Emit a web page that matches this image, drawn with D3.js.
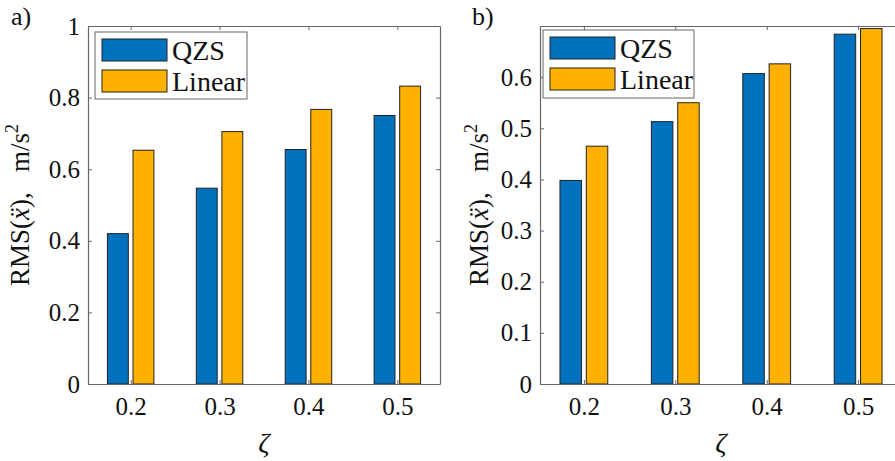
<!DOCTYPE html>
<meta charset="utf-8">
<script src="https://d3js.org/d3.v7.min.js"></script>
<style>
    body { margin: 0; background: #fff; }
    svg text { font-family: "Liberation Serif", "Times New Roman", serif; fill: #111; }
</style>
<div id="chart"></div>
<script>
    var width = 895
    var height = 461
    var serif = '"Liberation Serif", "Times New Roman", serif'

    // data
    var zetas = [0.2, 0.3, 0.4, 0.5]
    var seriesNames = ["QZS", "Linear"]
    var qzsA = [0.420, 0.547, 0.655, 0.750]
    var linearA = [0.653, 0.705, 0.767, 0.832]
    var qzsB = [0.398, 0.513, 0.607, 0.684]
    var linearB = [0.465, 0.550, 0.626, 0.695]
    var ticksA = [0, 0.2, 0.4, 0.6, 0.8, 1]
    var ticksB = [0, 0.1, 0.2, 0.3, 0.4, 0.5, 0.6]

    var colors = ["#0072BD", "#FFB100"]
    var axisColor = "#666"

    var svg = d3.select("#chart")
        .append("svg")
        .attr("width", width)
        .attr("height", height)

    var panels = [
        { tag: "a)", tagX: 11, left: 88, right: 440, ymax: 1, ticks: ticksA, labelX: 29,
          series: [qzsA, linearA], legend: { x: 95, y: 32, w: 152, h: 67 } },
        { tag: "b)", tagX: 472, left: 540, right: 902, ymax: 0.7, ticks: ticksB, labelX: 488,
          series: [qzsB, linearB], legend: { x: 543, y: 30, w: 151, h: 68 } }
    ]

    var plotTop = 26, plotBottom = 384
    var barW = 0.0235, barOff = 0.0144

    panels.forEach(function (p) {
        var x = d3.scaleLinear().domain([0.152, 0.548]).range([p.left, p.right])
        var y = d3.scaleLinear().domain([0, p.ymax]).range([plotBottom, plotTop])
        var g = svg.append("g")

        // bars
        p.series.forEach(function (vals, si) {
            var off = si === 0 ? -barOff : barOff
            g.selectAll(null)
                .data(vals)
                .enter()
                .append("rect")
                .attr("x", function (d, i) { return x(zetas[i] + off - barW / 2) })
                .attr("width", function (d, i) { return x(zetas[i] + off + barW / 2) - x(zetas[i] + off - barW / 2) })
                .attr("y", function (d) { return y(d) })
                .attr("height", function (d) { return y(0) - y(d) })
                .attr("fill", colors[si])
                .attr("stroke", "#222")
                .attr("stroke-width", 1)
        })

        // axes, MATLAB box style with ticks inside on all sides
        var ax = g.append("g").attr("transform", "translate(0," + plotBottom + ")")
            .call(d3.axisBottom(x).tickValues(zetas).tickFormat(d3.format(".1f")).tickSizeInner(-4).tickSizeOuter(0).tickPadding(13))
        var axTop = g.append("g").attr("transform", "translate(0," + plotTop + ")")
            .call(d3.axisTop(x).tickValues(zetas).tickFormat("").tickSizeInner(-4).tickSizeOuter(0))
        var ay = g.append("g").attr("transform", "translate(" + p.left + ",0)")
            .call(d3.axisLeft(y).tickValues(p.ticks).tickFormat(d3.format("~g")).tickSizeInner(-4).tickSizeOuter(0).tickPadding(8))
        var ayR = g.append("g").attr("transform", "translate(" + p.right + ",0)")
            .call(d3.axisRight(y).tickValues(p.ticks).tickFormat("").tickSizeInner(-4).tickSizeOuter(0))

        ;[ax, axTop, ay, ayR].forEach(function (a) {
            a.attr("font-family", serif).attr("font-size", 25)
            a.select(".domain").attr("stroke", axisColor).attr("stroke-width", 1.2)
            a.selectAll(".tick line").attr("stroke", axisColor)
            a.selectAll(".tick text")
                .style("font-family", serif)
                .style("font-size", "25px")
                .attr("fill", "#111")
        })

        // x label
        g.append("text")
            .attr("x", x(0.35))
            .attr("y", 452)
            .attr("text-anchor", "middle")
            .style("font-size", "28px")
            .style("font-style", "italic")
            .text("ζ")

        // y label
        var yl = g.append("text")
            .attr("transform", "translate(" + p.labelX + "," + ((plotTop + plotBottom) / 2) + ") rotate(-90)")
            .attr("text-anchor", "middle")
            .style("font-size", "27px")
        yl.append("tspan").text("RMS(")
        yl.append("tspan").style("font-style", "italic").text("x\u0308")
        yl.append("tspan").text("),\u2002 m/s")
        yl.append("tspan").attr("dy", -11).style("font-size", "18px").text("2")

        // panel tag
        g.append("text")
            .attr("x", p.tagX)
            .attr("y", 25)
            .style("font-size", "26px")
            .text(p.tag)

        // legend
        var L = p.legend
        var lg = g.append("g").attr("transform", "translate(" + L.x + "," + L.y + ")")
        lg.append("rect")
            .attr("width", L.w).attr("height", L.h)
            .attr("fill", "#fff").attr("stroke", axisColor).attr("stroke-width", 1)
        seriesNames.forEach(function (name, i) {
            lg.append("rect")
                .attr("x", 7).attr("y", 7 + i * 31)
                .attr("width", 65).attr("height", 22)
                .attr("fill", colors[i]).attr("stroke", "#222")
            lg.append("text")
                .attr("x", 77).attr("y", 28 + i * 31)
                .style("font-family", serif)
                .style("font-size", "28px")
                .text(name)
        })
    })
</script>
